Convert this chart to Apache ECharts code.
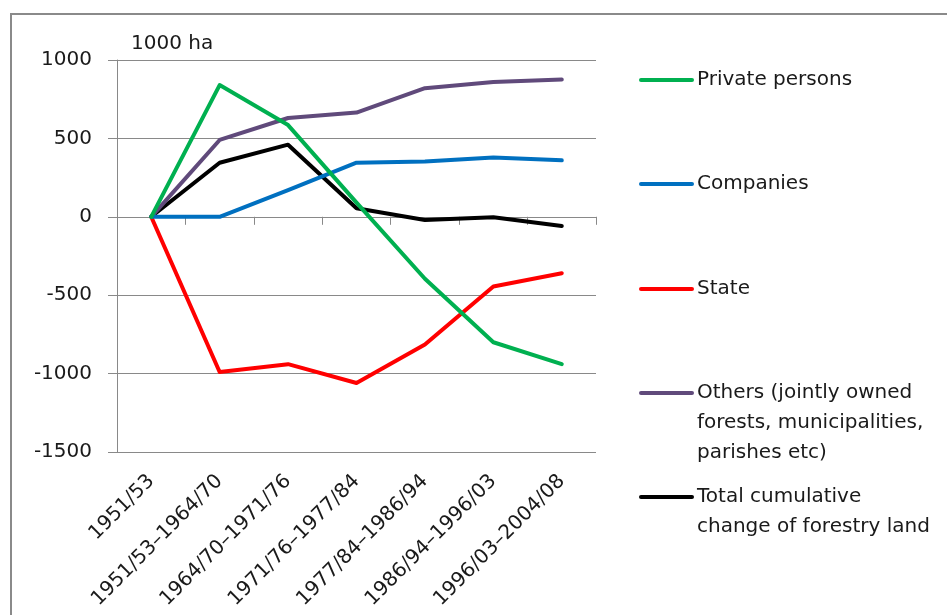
<!DOCTYPE html>
<html>
<head>
<meta charset="utf-8">
<script src="https://cdn.jsdelivr.net/npm/echarts@6/dist/echarts.min.js"></script>
<style>
  html, body { margin: 0; padding: 0; background: #fff; }
  #chart { width: 947px; height: 615px; }
</style>
</head>
<body>
<div id="chart"></div>
<script>
// Change in forestry land by owner category, 1000 ha
const periods = ['1951/53', '1951/53–1964/70', '1964/70–1971/76', '1971/76–1977/84',
                 '1977/84–1986/94', '1986/94–1996/03', '1996/03–2004/08'];

const privatePersons = [0, 840, 585, 90, -395, -800, -940];
const companies      = [0, 0, 170, 345, 352, 378, 360];
const state          = [0, -990, -940, -1060, -815, -445, -360];
const others         = [0, 490, 630, 665, 820, 860, 875];
const totalChange    = [0, 345, 460, 55, -20, -3, -58];

const seriesNames = [
  'Private persons',
  'Companies',
  'State',
  'Others (jointly owned\nforests, municipalities,\nparishes etc)',
  'Total cumulative\nchange of forestry land'
];
const seriesData = [privatePersons, companies, state, others, totalChange];
const seriesColors = ['#00b050', '#0070c0', '#ff0000', '#604a7b', '#000000'];

const yTicks = { min: -1500, max: 1000, step: 500 };
const unitLabel = '1000 ha';

const FONT = 'DejaVu Sans';
const FONT_SIZE = 20;
const TEXT = '#1a1a1a';
const GRID_GRAY = '#898989';

const chart = echarts.init(document.getElementById('chart'), null, { renderer: 'canvas' });

// legend drawn as line swatch + text block, first text line aligned to swatch
const legendTop = [80, 184, 289, 393, 497];
const legendGraphics = [];
seriesNames.forEach((name, i) => {
  legendGraphics.push({
    type: 'line',
    shape: { x1: 641, y1: legendTop[i], x2: 692, y2: legendTop[i] },
    style: { stroke: seriesColors[i], lineWidth: 4, lineCap: 'round' }
  });
  legendGraphics.push({
    type: 'text',
    x: 697,
    y: legendTop[i] - 15,
    style: {
      text: name,
      font: FONT_SIZE + 'px "' + FONT + '"',
      fill: TEXT,
      lineHeight: 30,
      verticalAlign: 'top'
    }
  });
});

const option = {
  animation: false,
  backgroundColor: '#ffffff',
  textStyle: { fontFamily: FONT },
  grid: { left: 117, top: 60, width: 479, height: 392, containLabel: false },
  xAxis: [
    {
      type: 'category',
      data: periods,
      boundaryGap: true,
      axisLine: { onZero: true, lineStyle: { color: GRID_GRAY, width: 1 } },
      axisTick: { show: true, inside: false, length: 8, interval: 0, lineStyle: { color: GRID_GRAY } },
      axisLabel: { show: false, interval: 0 },
      splitLine: { show: false }
    },
    {
      type: 'category',
      data: periods,
      position: 'bottom',
      boundaryGap: true,
      axisLine: { show: false, onZero: false },
      axisTick: { show: false },
      axisLabel: {
        show: true,
        rotate: 45,
        margin: 26,
        interval: 0,
        fontSize: FONT_SIZE,
        color: TEXT,
        fontFamily: FONT
      },
      splitLine: { show: false }
    }
  ],
  yAxis: {
    type: 'value',
    min: yTicks.min,
    max: yTicks.max,
    interval: yTicks.step,
    axisLine: { show: true, lineStyle: { color: GRID_GRAY, width: 1 } },
    axisTick: { show: true, inside: false, length: 9, lineStyle: { color: GRID_GRAY } },
    axisLabel: {
      margin: 25,
      fontSize: FONT_SIZE,
      color: TEXT,
      fontFamily: FONT,
      formatter: (v) => String(v)
    },
    splitLine: { show: true, lineStyle: { color: GRID_GRAY, width: 1 } }
  },
  series: seriesData.map((d, i) => ({
    name: seriesNames[i],
    type: 'line',
    data: d,
    xAxisIndex: 0,
    symbol: 'none',
    smooth: false,
    lineStyle: { color: seriesColors[i], width: 4, cap: 'round', join: 'round' },
    itemStyle: { color: seriesColors[i] },
    z: 3 + (seriesData.length - i)
  })),
  graphic: [
    {
      type: 'rect',
      shape: { x: 11, y: 14, width: 1000, height: 700 },
      style: { fill: 'none', stroke: '#8a8a8a', lineWidth: 2 },
      z: 0
    },
    {
      type: 'text',
      x: 131,
      y: 44,
      style: {
        text: unitLabel,
        font: FONT_SIZE + 'px "' + FONT + '"',
        fill: TEXT,
        verticalAlign: 'middle'
      }
    },
    ...legendGraphics
  ]
};

chart.setOption(option);
</script>
</body>
</html>
